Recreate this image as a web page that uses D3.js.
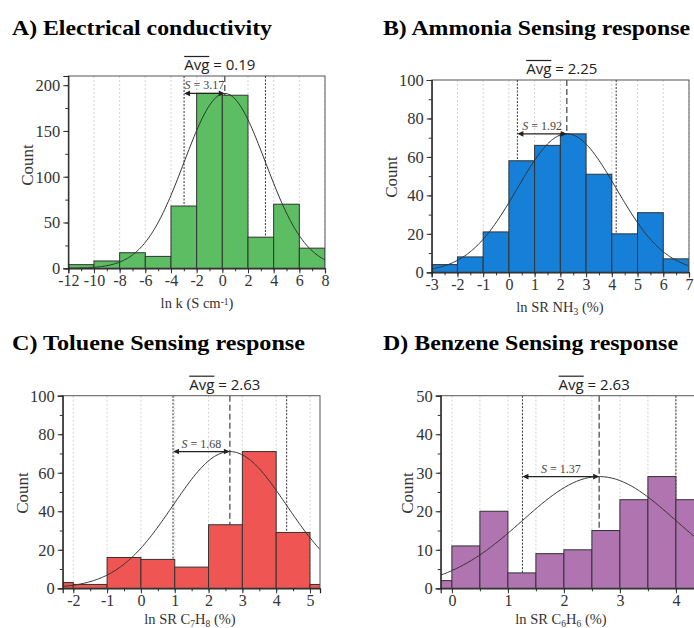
<!DOCTYPE html>
<html><head><meta charset="utf-8">
<script src="https://cdn.jsdelivr.net/npm/d3@7"></script>
<style>body{margin:0;background:#fff}svg{display:block}</style>
</head><body>
<svg id="chart" width="694" height="628"></svg>
<script>
// ---- data ----
const titles = ["A) Electrical conductivity","B) Ammonia Sensing response","C) Toluene Sensing response","D) Benzene Sensing response"];
const aEdges = [-12,-10,-8,-6,-4,-2,0,2,4,6,8];
const aCounts = [4,8,17,13,68,191,189,34,70,22];
const bEdges = [-3,-2,-1,0,1,2,3,4,5,6,7];
const bCounts = [4,8,21,58,66,72,51,20,31,7];
const cEdges = [-3,-2,-1,0,1,2,3,4,5,6];
const cCounts = [3,2,16,15,11,33,71,29,2];
const dEdges = [-0.5,0,0.5,1,1.5,2,2.5,3,3.5,4,4.5];
const dCounts = [2,11,20,4,9,10,15,23,29,23];
const means = [0.19,2.25,2.63,2.63];
const sds = [3.17,1.92,1.68,1.37];
const peaks = [191,72,71,29];
const meanLabels = ["0.19","2.25","2.63","2.63"];
const sdLabels = ["3.17","1.92","1.68","1.37"];
const aXTicks = [-12,-10,-8,-6,-4,-2,0,2,4,6,8];
const bXTicks = [-3,-2,-1,0,1,2,3,4,5,6,7];
const cXTicks = [-2,-1,0,1,2,3,4,5];
const dXTicks = [0,1,2,3,4];
const dGrid = [0,0.5,1,1.5,2,2.5,3,3.5,4,4.5];
const aYTicks = [0,50,100,150,200];
const bYTicks = [0,20,40,60,80,100];
const cYTicks = [0,20,40,60,80,100];
const dYTicks = [0,10,20,30,40,50];

// ---- layout / style ----
const panels = [
  {edges:aEdges,counts:aCounts,xTicks:aXTicks,grid:aXTicks,yTicks:aYTicks,xMinor:1,yMinor:25,
   xDom:[-12,8],yDom:[0,210],L:68.3,R:325,T:76,B:268.3,color:"#5cbd62",
   tx:12,ty:35,tw:260,xl:[["ln k (S cm",0],["-1",-1],[")",0]],xlx:197,xly:308,cx:27,cy:165},
  {edges:bEdges,counts:bCounts,xTicks:bXTicks,grid:bXTicks,yTicks:bYTicks,xMinor:0.5,yMinor:10,
   xDom:[-3,7],yDom:[0,100],L:431.7,R:689,T:80,B:272.3,color:"#1680d8",
   tx:383,ty:35,tw:307,xl:[["ln SR NH",0],["3",1],[" (%)",0]],xlx:560,xly:312,cx:391,cy:177},
  {edges:cEdges,counts:cCounts,xTicks:cXTicks,grid:cXTicks,yTicks:cYTicks,xMinor:0.5,yMinor:10,
   xDom:[-2.313,5.296],yDom:[0,100],L:62.7,R:320,T:395.7,B:588.3,color:"#ef5552",
   tx:12,ty:350,tw:293,xl:[["ln SR C",0],["7",1],["H",0],["8",1],[" (%)",0]],xlx:190,xly:623.5,cx:22,cy:493},
  {edges:dEdges,counts:dCounts,xTicks:dXTicks,grid:dGrid,yTicks:dYTicks,xMinor:0.5,yMinor:5,
   xDom:[-0.2,4.6],yDom:[0,50],L:440.7,R:709.5,T:395.7,B:588.3,color:"#b074b0",
   tx:383,ty:350,tw:295,xl:[["ln SR C",0],["6",1],["H",0],["6",1],[" (%)",0]],xlx:561,xly:623.5,cx:407,cy:493}
];

const svg = d3.select("#chart");
const serif = "'Liberation Serif', 'Times New Roman', serif";
const defs = svg.append("defs");

panels.forEach((p,i)=>{
  const x = d3.scaleLinear().domain(p.xDom).range([p.L,p.R]);
  const y = d3.scaleLinear().domain(p.yDom).range([p.B,p.T]);
  const g = svg.append("g");
  const clipId = "clip"+i;
  defs.append("clipPath").attr("id",clipId).append("rect")
    .attr("x",p.L).attr("y",p.T).attr("width",p.R-p.L).attr("height",p.B-p.T);

  // title
  svg.append("text").attr("x",p.tx).attr("y",p.ty).text(titles[i])
    .attr("font-family",serif).attr("font-weight","bold").attr("font-size",21)
    .attr("textLength",p.tw).attr("lengthAdjust","spacingAndGlyphs").attr("fill","#000");

  const plot = g.append("g").attr("clip-path",`url(#${clipId})`);
  // grid lines
  plot.selectAll(".grid").data(p.grid).enter().append("line")
    .attr("x1",d=>x(d)).attr("x2",d=>x(d)).attr("y1",p.T).attr("y2",p.B)
    .attr("stroke","#c8c8c8").attr("stroke-width",0.8).attr("stroke-dasharray","2,2");
  // mean and sd lines (behind bars)
  const m = means[i], s = sds[i];
  plot.append("line").attr("x1",x(m)).attr("x2",x(m)).attr("y1",p.T).attr("y2",p.B)
    .attr("stroke","#666").attr("stroke-width",1.5).attr("stroke-dasharray","6,3");
  [m-s,m+s].forEach(v=>{
    plot.append("line").attr("x1",x(v)).attr("x2",x(v)).attr("y1",p.T).attr("y2",p.B)
      .attr("stroke","#333").attr("stroke-width",1).attr("stroke-dasharray","2,1.5");
  });
  // bars
  const bins = p.counts.map((c,k)=>({x0:p.edges[k],x1:p.edges[k+1],c}));
  plot.selectAll(".bar").data(bins).enter().append("rect")
    .attr("x",d=>x(d.x0)).attr("width",d=>x(d.x1)-x(d.x0))
    .attr("y",d=>y(d.c)).attr("height",d=>y(0)-y(d.c))
    .attr("fill",p.color).attr("stroke","#333").attr("stroke-width",1);
  // normal curve
  const pts = d3.range(p.xDom[0],p.xDom[1]+0.001,(p.xDom[1]-p.xDom[0])/200)
    .map(v=>[v, peaks[i]*Math.exp(-((v-m)*(v-m))/(2*s*s))]);
  plot.append("path").datum(pts)
    .attr("d",d3.line().x(d=>x(d[0])).y(d=>y(d[1])).curve(d3.curveBasis))
    .attr("fill","none").attr("stroke","#333").attr("stroke-width",1);
  // sd arrow
  const ay = y(peaks[i]);
  const x1 = x(m-s), x2 = x(m);
  g.append("line").attr("x1",x1+2).attr("x2",x2-2).attr("y1",ay).attr("y2",ay)
    .attr("stroke","#222").attr("stroke-width",1.2);
  g.append("path").attr("d",`M${x1},${ay}L${x1+6},${ay-2.8}L${x1+6},${ay+2.8}Z`).attr("fill","#222");
  g.append("path").attr("d",`M${x2},${ay}L${x2-6},${ay-2.8}L${x2-6},${ay+2.8}Z`).attr("fill","#222");
  const sl = g.append("text").attr("x",(x1+x2)/2).attr("y",ay-4).attr("text-anchor","middle")
    .attr("font-family",serif).attr("font-size",12).attr("fill","#444");
  sl.append("tspan").attr("font-style","italic").text("S");
  sl.append("tspan").text(" = "+sdLabels[i]);

  // frame
  g.append("rect").attr("x",p.L).attr("y",p.T).attr("width",p.R-p.L).attr("height",p.B-p.T)
    .attr("fill","none").attr("stroke","#555").attr("stroke-width",1);

  // axes
  const xMin = d3.range(Math.ceil(p.xDom[0]/p.xMinor)*p.xMinor, p.xDom[1]+1e-6, p.xMinor);
  const xAxisMinor = d3.axisBottom(x).tickValues(xMin).tickSize(3).tickFormat("");
  g.append("g").attr("transform",`translate(0,${p.B})`).call(xAxisMinor)
    .call(a=>a.select(".domain").remove()).selectAll("line").attr("stroke","#333");
  const xAxis = d3.axisBottom(x).tickValues(p.xTicks).tickSize(5).tickPadding(1)
    .tickFormat(d=>String(d).replace("\u2212","-"));
  const xa = g.append("g").attr("transform",`translate(0,${p.B})`).call(xAxis);
  xa.select(".domain").attr("stroke","#222").attr("stroke-width",1.2);
  xa.selectAll("line").attr("stroke","#333");
  xa.selectAll("text").attr("font-family",serif).attr("font-size",16).attr("fill","#333");

  const yMin = d3.range(p.yDom[0], p.yDom[1]+1e-6, p.yMinor);
  g.append("g").attr("transform",`translate(${p.L},0)`)
    .call(d3.axisLeft(y).tickValues(yMin).tickSize(3).tickFormat(""))
    .call(a=>a.select(".domain").remove()).selectAll("line").attr("stroke","#333");
  const ya = g.append("g").attr("transform",`translate(${p.L},0)`)
    .call(d3.axisLeft(y).tickValues(p.yTicks).tickSize(5).tickPadding(3));
  ya.select(".domain").attr("stroke","#222").attr("stroke-width",1.2);
  ya.selectAll("line").attr("stroke","#333");
  ya.selectAll("text").attr("font-family",serif).attr("font-size",16.5).attr("fill","#333").attr("dy","0.33em");

  // y label
  g.append("text").attr("transform",`translate(${p.cx},${p.cy}) rotate(-90)`)
    .attr("text-anchor","middle").attr("dy","0.35em").text("Count")
    .attr("font-family",serif).attr("font-size",17).attr("fill","#333");
  // x label
  const xl = g.append("text").attr("x",p.xlx).attr("y",p.xly).attr("text-anchor","middle")
    .attr("font-family",serif).attr("font-size",14.5).attr("fill","#333");
  let shift = 0;
  p.xl.forEach(([t,k])=>{
    const dy = k===0 ? -shift : (k*3 - shift);
    const ts = xl.append("tspan").text(t).attr("dy",dy);
    if(k!==0) ts.attr("font-size",9.5);
    shift = k===0 ? 0 : k*3;
  });

  // Avg label with overline
  const ag = g.append("g");
  const t1 = ag.append("text").attr("x",0).attr("y",0).text("Avg")
    .attr("font-family","'Open Sans', sans-serif").attr("font-size",15).attr("fill","#222");
  const w1 = t1.node().getComputedTextLength();
  const t2 = ag.append("text").attr("x",w1).attr("y",0).text(" = "+meanLabels[i])
    .attr("font-family","'Open Sans', sans-serif").attr("font-size",15).attr("fill","#222")
    .attr("xml:space","preserve").style("white-space","pre");
  const w2 = t2.node().getComputedTextLength();
  ag.append("line").attr("x1",0).attr("x2",w1).attr("y1",-13.5).attr("y2",-13.5)
    .attr("stroke","#222").attr("stroke-width",1.2);
  ag.attr("transform",`translate(${x(m)-5-(w1+w2)/2},${p.T-6})`);
});
</script>
</body></html>
